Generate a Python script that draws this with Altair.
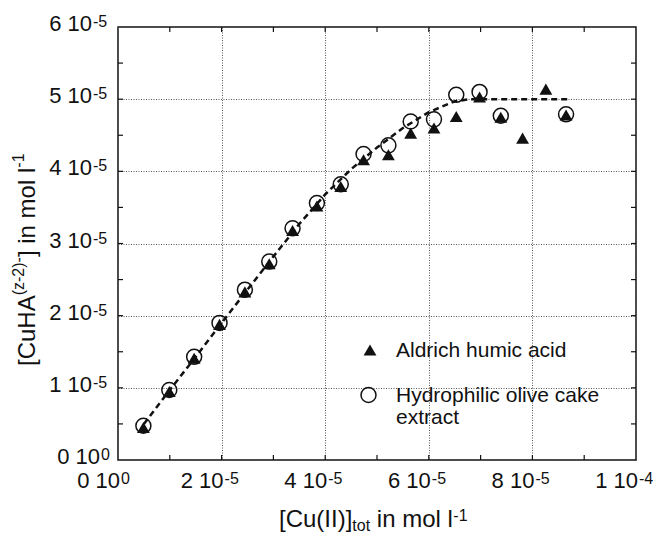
import altair as alt
import pandas as pd

SCALE = 1e-5  # all values below are in units of 1e-5 mol l-1

# Hydrophilic olive cake extract (open circles)
olive_cu_tot = [0.49, 0.99, 1.47, 1.96, 2.45, 2.92, 3.37, 3.84, 4.30, 4.74, 5.22, 5.65, 6.10, 6.53, 6.98, 7.39, 8.65]
olive_cuha = [0.475, 0.97, 1.43, 1.90, 2.36, 2.75, 3.21, 3.56, 3.82, 4.24, 4.36, 4.69, 4.72, 5.06, 5.10, 4.77, 4.79]

# Aldrich humic acid (filled triangles)
aldrich_cu_tot = [0.49, 0.99, 1.47, 1.96, 2.45, 2.92, 3.37, 3.84, 4.30, 4.74, 5.22, 5.65, 6.10, 6.53, 6.98, 7.39, 7.81, 8.26, 8.65]
aldrich_cuha = [0.45, 0.95, 1.41, 1.88, 2.33, 2.72, 3.18, 3.52, 3.79, 4.16, 4.23, 4.53, 4.60, 4.76, 5.03, 4.75, 4.46, 5.14, 4.78]

# dashed model curve
fit_cu_tot = [0.50, 1.0, 1.5, 2.0, 2.5, 3.0, 3.5, 4.0, 4.5, 5.0, 5.5, 6.0, 6.5, 6.8, 7.5, 8.0, 8.75]
fit_cuha = [0.50, 0.97, 1.43, 1.90, 2.36, 2.82, 3.27, 3.68, 4.03, 4.33, 4.60, 4.82, 4.97, 5.00, 5.00, 5.00, 5.00]

series_names = ["Aldrich humic acid", "Hydrophilic olive cake", "extract"]

# tick labels: mantissa part and exponent (superscript) part
x_tick_values = [0, 2, 4, 6, 8, 10]
x_tick_base = ["0 10", "2 10", "4 10", "6 10", "8 10", "1 10"]
x_tick_sup = ["0", "-5", "-5", "-5", "-5", "-4"]
y_tick_values = [0, 1, 2, 3, 4, 5, 6]
y_tick_base = ["0 10", "1 10", "2 10", "3 10", "4 10", "5 10", "6 10"]
y_tick_sup = ["0", "-5", "-5", "-5", "-5", "-5", "-5"]

x_minor_ticks = [1, 2, 3, 4, 5, 6, 7, 8, 9]
y_minor_ticks = [0.5, 1, 1.5, 2, 2.5, 3, 3.5, 4, 4.5, 5, 5.5]

x_title_parts = ["[Cu(II)]", "tot", "in mol l", "-1"]
y_title_parts = ["[CuHA", "(z-2)-", "] in mol l", "-1"]

FONT = "Liberation Sans"
W, H = 518, 433
INK = "#111111"

x_scale = alt.Scale(domain=[0, 10 * SCALE], nice=False)
y_scale = alt.Scale(domain=[0, 6 * SCALE], nice=False)

grid_style = dict(grid=True, ticks=False, domain=False, labels=False,
                  gridColor="#555555", gridDash=[1, 1.5], gridWidth=1, gridOpacity=1)
x_axis = alt.Axis(values=[v * SCALE for v in x_tick_values], **grid_style)
y_axis = alt.Axis(values=[v * SCALE for v in y_tick_values], **grid_style)


def X():
    return alt.X("x:Q", scale=x_scale, axis=x_axis, title=None)


def Y():
    return alt.Y("y:Q", scale=y_scale, axis=y_axis, title=None)


olive_df = pd.DataFrame({"x": [v * SCALE for v in olive_cu_tot], "y": [v * SCALE for v in olive_cuha]})
aldrich_df = pd.DataFrame({"x": [v * SCALE for v in aldrich_cu_tot], "y": [v * SCALE for v in aldrich_cuha]})
fit_df = pd.DataFrame({"x": [v * SCALE for v in fit_cu_tot], "y": [v * SCALE for v in fit_cuha]})
xt_df = pd.DataFrame({"x": [v * SCALE for v in x_minor_ticks]})
yt_df = pd.DataFrame({"y": [v * SCALE for v in y_minor_ticks]})
xl_df = pd.DataFrame({"x": [v * SCALE for v in x_tick_values], "base": x_tick_base, "sup": x_tick_sup})
yl_df = pd.DataFrame({"y": [v * SCALE for v in y_tick_values], "base": y_tick_base, "sup": y_tick_sup})

fit_line = alt.Chart(fit_df).mark_line(color=INK, strokeWidth=2.5, strokeDash=[6, 4]).encode(x=X(), y=Y())
circles = alt.Chart(olive_df).mark_point(shape="circle", size=225, filled=False, color=INK, strokeWidth=1.5, opacity=1).encode(x=X(), y=Y())
triangles = alt.Chart(aldrich_df).mark_point(shape="triangle-up", size=165, filled=True, color=INK, opacity=1).encode(x=X(), y=Y())

tick_style = dict(color=INK, strokeWidth=1.2)
bottom_ticks = alt.Chart(xt_df).mark_rule(**tick_style).encode(x=X(), y=alt.value(H), y2=alt.value(H - 5))
top_ticks = alt.Chart(xt_df).mark_rule(**tick_style).encode(x=X(), y=alt.value(0), y2=alt.value(5))
left_ticks = alt.Chart(yt_df).mark_rule(**tick_style).encode(y=Y(), x=alt.value(0), x2=alt.value(5))
right_ticks = alt.Chart(yt_df).mark_rule(**tick_style).encode(y=Y(), x=alt.value(W), x2=alt.value(W - 5))

# tick labels built from mantissa + superscript exponent
lab = dict(font=FONT, color=INK, baseline="alphabetic")
x_lab_base = alt.Chart(xl_df).mark_text(align="right", fontSize=22, dx=2, **lab).encode(
    x=X(), y=alt.value(H + 28), text="base:N")
x_lab_sup = alt.Chart(xl_df).mark_text(align="left", fontSize=16, dx=3, **lab).encode(
    x=X(), y=alt.value(H + 23.5), text="sup:N")
y_lab_base_a = alt.Chart(yl_df).transform_filter("datum.sup != '0'").mark_text(
    align="right", fontSize=22, dy=4, **lab).encode(x=alt.value(-26), y=Y(), text="base:N")
y_lab_sup_a = alt.Chart(yl_df).transform_filter("datum.sup != '0'").mark_text(
    align="left", fontSize=16, dy=0, **lab).encode(x=alt.value(-25), y=Y(), text="sup:N")
y_lab_base_b = alt.Chart(yl_df).transform_filter("datum.sup == '0'").mark_text(
    align="right", fontSize=22, dy=4, **lab).encode(x=alt.value(-18), y=Y(), text="base:N")
y_lab_sup_b = alt.Chart(yl_df).transform_filter("datum.sup == '0'").mark_text(
    align="left", fontSize=16, dy=0, **lab).encode(x=alt.value(-17), y=Y(), text="sup:N")


def text_piece(txt, x, y, size, angle=0):
    kw = dict(align="left", baseline="alphabetic", font=FONT, fontSize=size, color=INK)
    if angle:
        kw["angle"] = angle
    return alt.Chart(pd.DataFrame({"t": [txt]})).mark_text(**kw).encode(
        x=alt.value(x), y=alt.value(y), text="t:N")


# x-axis title with subscript / superscript
x_title = [
    text_piece(x_title_parts[0], 161, 500, 24),
    text_piece(x_title_parts[1], 234.3, 504, 16),
    text_piece(x_title_parts[2], 258.8, 500, 24),
    text_piece(x_title_parts[3], 335.3, 494, 16),
]
# y-axis title (rotated) with superscripts
y_title = [
    text_piece(y_title_parts[0], -83, 339, 24, 270),
    text_piece(y_title_parts[1], -94, 268.3, 16, 270),
    text_piece(y_title_parts[2], -83, 230.1, 24, 270),
    text_piece(y_title_parts[3], -94, 140.7, 16, 270),
]

# legend
leg_df = pd.DataFrame({"t": ["a"]})
leg_tri = alt.Chart(leg_df).mark_point(shape="triangle-up", size=165, filled=True, color=INK, opacity=1).encode(
    x=alt.value(252), y=alt.value(323))
leg_circ = alt.Chart(leg_df).mark_point(shape="circle", size=225, filled=False, color=INK, strokeWidth=1.5, opacity=1).encode(
    x=alt.value(250.5), y=alt.value(368))
leg_text = [
    text_piece(series_names[0], 278, 330, 21),
    text_piece(series_names[1], 278, 375, 21),
    text_piece(series_names[2], 278, 397, 21),
]

chart = alt.layer(
    fit_line, circles, triangles,
    bottom_ticks, top_ticks, left_ticks, right_ticks,
    x_lab_base, x_lab_sup, y_lab_base_a, y_lab_sup_a, y_lab_base_b, y_lab_sup_b,
    *x_title, *y_title, leg_tri, leg_circ, *leg_text,
).properties(
    width=W, height=H,
    autosize=alt.AutoSizeParams(type="none"),
    padding={"left": 118, "top": 27, "right": 18, "bottom": 74},
    background="white",
).configure_view(stroke=INK, strokeWidth=1.5)

chart.save("out.html", embed_options={"renderer": "svg", "actions": False})
